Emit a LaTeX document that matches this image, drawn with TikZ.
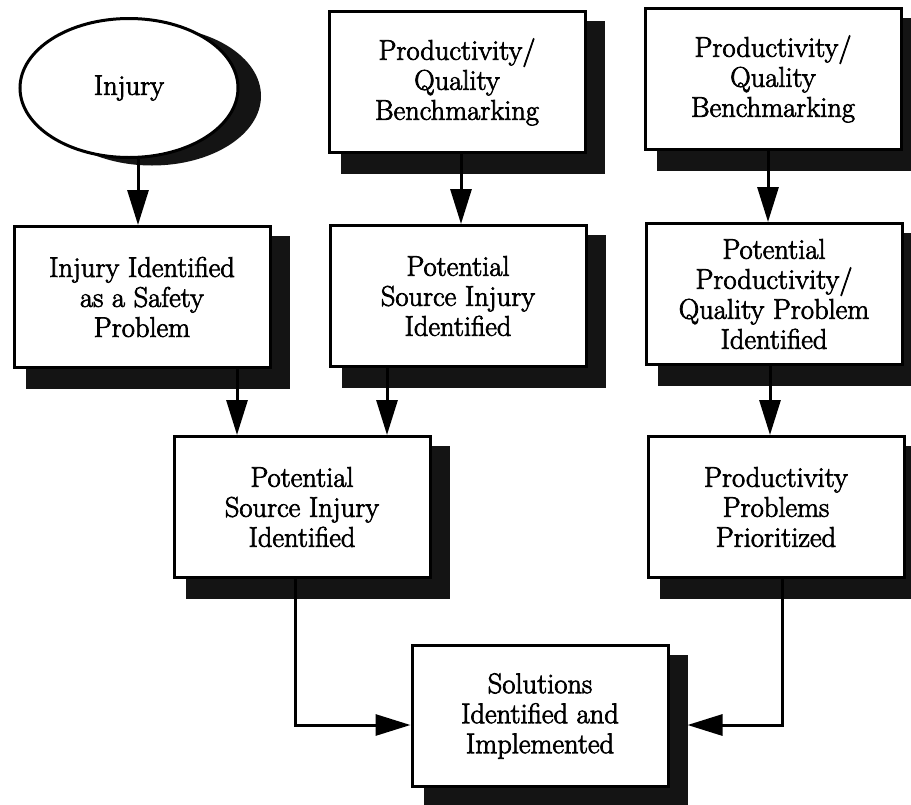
\documentclass[tikz,border=0pt]{standalone}
\usepackage{fontspec}
\newfontfamily\boxfont{Latin Modern Roman}[FakeBold=2.5]
\usetikzlibrary{arrows.meta,shapes.geometric,backgrounds}

\begin{document}
\begin{tikzpicture}[x=1pt,y=-1pt,
  txt/.style={font=\boxfont\fontsize{28.5}{30}\selectfont,align=center,inner sep=0pt},
  box/.style={txt,draw,line width=3pt,fill=white,minimum width=256pt,minimum height=141pt},
  oval/.style={txt,ellipse,draw,line width=3pt,fill=white,minimum width=218pt,minimum height=139pt},
  arr/.style={line width=3pt,-{Triangle[length=35pt,width=21pt]}},
  shadowfill/.style={fill=black!92}]

\useasboundingbox (0,0) rectangle (911,804);

% boxes of the flow chart
\node[oval] (inj) at (129,88) {Injury};
\node[box] (b1) at (142,297) {Injury Identified\\as a Safety\\Problem};
\node[box] (b2) at (457,82) {Productivity/\\Quality\\Benchmarking};
\node[box] (b3) at (773,79) {Productivity/\\Quality\\Benchmarking};
\node[box] (b4) at (458,296) {Potential\\Source Injury\\Identified};
\node[box] (b5) at (774,294) {Potential\\Productivity/\\Quality Problem\\Identified};
\node[box] (b6) at (302,507) {Potential\\Source Injury\\Identified};
\node[box] (b7) at (776,507) {Productivity\\Problems\\Prioritized};
\node[box] (b8) at (540,716) {Solutions\\Identified and\\Implemented};

% drop shadows behind the boxes
\begin{scope}[on background layer]
  \fill[white] (0,0) rectangle (911,804);
  \foreach \n in {b1,b2,b3,b4,b5,b6,b7,b8}
    \fill[shadowfill] ([xshift=13pt,yshift=-11pt]\n.north west)
                      rectangle ([xshift=18pt,yshift=-20pt]\n.south east);
  \fill[shadowfill] ([xshift=23pt,yshift=-8pt]inj.center)
                    ellipse [x radius=109pt,y radius=69.5pt];
\end{scope}

% connectors
\draw[arr] ([xshift=9pt]inj.south) -- ([xshift=9pt]inj.south |- b1.north);
\draw[arr] ([xshift=95pt]b1.south) -- ([xshift=95pt]b1.south |- b6.north);
\draw[arr] ([xshift=4pt]b2.south) -- ([xshift=4pt]b2.south |- b4.north);
\draw[arr] ([xshift=-71pt]b4.south) -- ([xshift=-71pt]b4.south |- b6.north);
\draw[arr] ([xshift=-5pt]b3.south) -- ([xshift=-5pt]b3.south |- b5.north);
\draw[arr] ([xshift=-4pt]b5.south) -- ([xshift=-4pt]b5.south |- b7.north);
\draw[arr] ([xshift=-7pt]b6.south) |- ([yshift=-9pt]b8.west);
\draw[arr] ([xshift=6pt]b7.south) |- ([xshift=18pt,yshift=-9pt]b8.east);
\end{tikzpicture}
\end{document}
